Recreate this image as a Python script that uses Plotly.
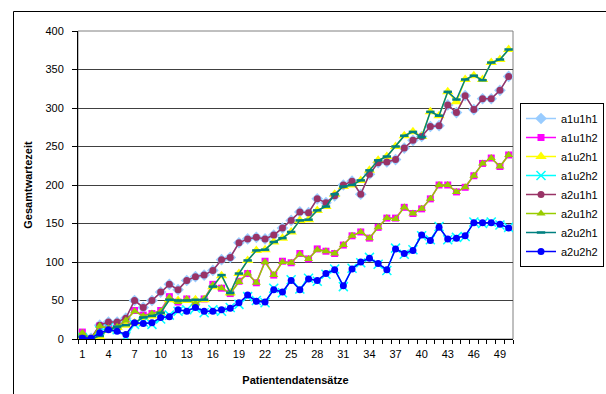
import plotly.graph_objects as go

# Patientendatensätze 1..50
records = list(range(1, 51))

a1u1h1 = [3, 1, 18, 22, 22, 27, 50, 41, 50, 61, 71, 64, 76, 81, 83, 89, 103, 106, 125, 130,
          132, 130, 135, 144, 154, 165, 164, 182, 177, 186, 200, 205, 188, 214, 229, 230, 233, 248, 258, 263,
          276, 277, 304, 294, 316, 298, 312, 312, 323, 341]
a1u1h2 = [9, 0, 17, 14, 16, 24, 37, 31, 33, 37, 55, 48, 52, 46, 52, 71, 66, 59, 75, 85,
          73, 101, 83, 101, 99, 111, 104, 117, 114, 111, 122, 134, 139, 131, 145, 157, 157, 171, 163, 169,
          182, 200, 200, 191, 197, 212, 228, 235, 224, 239]
a1u2h1 = [3, 0, 3, 12, 15, 18, 21, 28, 30, 34, 51, 50, 50, 51, 51, 68, 82, 60, 85, 102,
          115, 116, 126, 131, 139, 154, 155, 167, 172, 188, 198, 200, 206, 219, 232, 237, 250, 264, 269, 263,
          295, 290, 321, 308, 337, 342, 337, 359, 363, 376]
a1u2h2 = [2, 0, 11, 15, 12, 3, 19, 22, 19, 26, 31, 36, 38, 40, 34, 38, 36, 41, 45, 55,
          50, 47, 66, 60, 77, 65, 79, 75, 84, 91, 68, 92, 99, 106, 97, 89, 118, 110, 116, 134,
          129, 146, 129, 132, 133, 152, 150, 152, 148, 145]
a2u1h1 = [3, 1, 18, 22, 22, 27, 50, 41, 50, 61, 71, 64, 76, 81, 83, 89, 103, 106, 125, 130,
          132, 130, 135, 144, 154, 165, 164, 182, 177, 186, 200, 205, 188, 214, 229, 230, 233, 248, 258, 263,
          276, 277, 304, 294, 316, 298, 312, 312, 323, 341]
a2u1h2 = [8, 0, 17, 14, 16, 24, 36, 30, 33, 36, 54, 48, 52, 46, 52, 70, 66, 59, 74, 85,
          73, 100, 83, 100, 99, 110, 104, 116, 114, 111, 122, 134, 139, 131, 145, 157, 156, 171, 163, 169,
          182, 200, 200, 191, 197, 212, 228, 235, 224, 239]
a2u2h1 = [3, 0, 4, 12, 16, 18, 21, 28, 30, 34, 51, 50, 50, 51, 51, 68, 83, 60, 85, 102,
          115, 116, 126, 131, 139, 154, 155, 167, 172, 188, 198, 200, 206, 219, 232, 237, 250, 264, 269, 262,
          295, 290, 321, 311, 337, 342, 336, 359, 363, 376]
a2u2h2 = [1, 1, 8, 12, 10, 6, 21, 20, 21, 28, 29, 38, 36, 41, 36, 36, 38, 40, 47, 57,
          49, 48, 64, 61, 76, 64, 78, 76, 85, 90, 69, 91, 100, 105, 98, 90, 117, 111, 115, 135,
          128, 145, 130, 131, 134, 151, 151, 151, 149, 144]

x_tick_labels = [str(v) for v in range(1, 51, 3)]
y_ticks = list(range(0, 401, 50))

series = [
    ("a1u1h1", a1u1h1, "#99CCFF", dict(symbol="diamond", size=9)),
    ("a1u1h2", a1u1h2, "#FF00FF", dict(symbol="square", size=7)),
    ("a1u2h1", a1u2h1, "#FFFF00", dict(symbol="triangle-up", size=10)),
    ("a1u2h2", a1u2h2, "#00FFFF", dict(symbol="x-thin", size=9, line=dict(width=1.5, color="#00FFFF"))),
    ("a2u1h1", a2u1h1, "#993366", dict(symbol="circle", size=7)),
    ("a2u1h2", a2u1h2, "#99CC00", dict(symbol="triangle-up", size=8)),
    ("a2u2h1", a2u2h1, "#008080", dict(symbol="line-ew", size=6, line=dict(width=2.5, color="#008080"))),
    ("a2u2h2", a2u2h2, "#0000FF", dict(symbol="circle", size=7)),
]

fig = go.Figure()
for name, vals, color, marker in series:
    fig.add_trace(go.Scatter(
        x=records, y=vals, name=name, mode="lines+markers",
        line=dict(color=color, width=1.5),
        marker=dict(color=color, **marker),
    ))

font_family = "Liberation Sans, Arial, sans-serif"

# plot-area and chart-area frames
L, R, T, B = 78, 93, 31, 55
W, H = 606 - L - R, 394 - T - B
def px_to_paper_x(px):
    return (px - L) / W
def px_to_paper_y(py):
    return (394 - B - py) / H

fig.add_shape(type="rect", xref="paper", yref="paper", x0=0, x1=1, y0=0, y1=1,
              line=dict(color="#808080", width=1), layer="below")
fig.add_shape(type="rect", xref="paper", yref="paper",
              x0=px_to_paper_x(13.5), x1=px_to_paper_x(620),
              y0=px_to_paper_y(420), y1=px_to_paper_y(11.5),
              line=dict(color="#000000", width=1), layer="below")

fig.update_layout(
    width=606, height=394,
    margin=dict(l=L, r=R, t=T, b=B, autoexpand=False),
    paper_bgcolor="white", plot_bgcolor="white",
    font=dict(family=font_family, size=11, color="black"),
    showlegend=True,
    legend=dict(
        x=px_to_paper_x(604), y=px_to_paper_y(103), xanchor="right", yanchor="top",
        bordercolor="#000000", borderwidth=1, bgcolor="white",
        font=dict(size=11, family=font_family),
        itemwidth=30, tracegroupgap=0,
    ),
    xaxis=dict(
        range=[0.5, 50.5], tickmode="array",
        tickvals=list(range(1, 51, 3)), ticktext=x_tick_labels,
        ticks="outside", ticklen=5, tickcolor="rgba(0,0,0,0)",
        minor=dict(tickmode="linear", tick0=0.5, dtick=1, ticks="outside",
                   ticklen=4, tickcolor="black", showgrid=False),
        showgrid=False, zeroline=False,
        showline=True, linecolor="black", linewidth=1,
        title=dict(text="<b>Patientendatensätze</b>", standoff=17,
                   font=dict(size=11, family=font_family)),
        tickfont=dict(size=11, family=font_family),
        fixedrange=True,
    ),
    yaxis=dict(
        range=[0, 400], tickmode="array", tickvals=y_ticks,
        ticks="outside", ticklen=5, tickcolor="black",
        ticklabelstandoff=6,
        showgrid=True, gridcolor="#404040", gridwidth=1,
        zeroline=False, showline=True, linecolor="black", linewidth=1,
        title=dict(text="<b>Gesamtwartezeit</b>", standoff=10,
                   font=dict(size=11, family=font_family)),
        tickfont=dict(size=11, family=font_family),
        fixedrange=True,
    ),
)

fig.write_html("out.html")
